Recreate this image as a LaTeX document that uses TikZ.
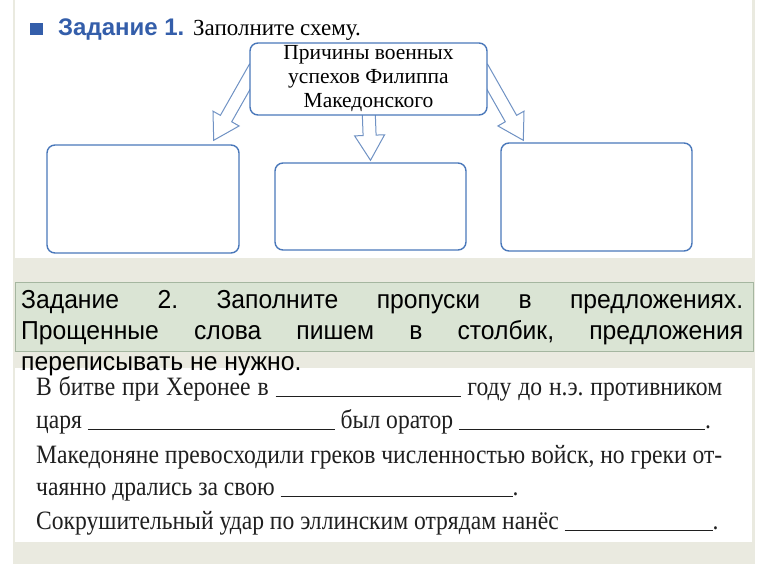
\documentclass[tikz,border=0pt]{standalone}
\usepackage{fontspec}
\setmainfont{Liberation Serif}
\newfontfamily\headsans{Liberation Sans}
\newfontfamily\notesans[FakeStretch=0.95]{Liberation Sans}
\newfontfamily\taskserif[FakeStretch=0.89]{Liberation Serif}
\usetikzlibrary{calc,backgrounds}
\frenchspacing

\definecolor{frameblue}{RGB}{74,120,186}
\definecolor{arrowblue}{RGB}{112,146,196}
\definecolor{headblue}{RGB}{52,94,170}
\definecolor{panelgray}{RGB}{234,234,224}
\definecolor{notegreen}{RGB}{218,228,212}
\definecolor{noteedge}{RGB}{165,182,160}

\tikzset{
  schemebox/.style={draw=frameblue, line width=1.4pt, rounded corners=8pt, fill=white, inner sep=0pt},
  hollowarrow/.style={draw=arrowblue, line width=1pt, line join=miter},
  sentence/.style={anchor=base west, inner sep=0pt, text=black!88, font=\taskserif\fontsize{26.5}{30}\selectfont},
}
\newcommand\blank[1]{\rule[-2pt]{#1pt}{0.8pt}}
% hollow block arrow: name, start, tip
\newcommand\blockarrow[3]{%
  \coordinate (#1-a) at (#2);
  \coordinate (#1-b) at (#3);
  \coordinate (#1-h) at ($(#1-b)!25pt!(#1-a)$);
  \draw[hollowarrow] ($(#1-a)!6.5pt!90:(#1-b)$) -- ($(#1-h)!6.5pt!90:(#1-b)$)
    -- ($(#1-h)!15pt!90:(#1-b)$) -- (#1-b) -- ($(#1-h)!15pt!-90:(#1-b)$)
    -- ($(#1-h)!6.5pt!-90:(#1-b)$) -- ($(#1-a)!6.5pt!-90:(#1-b)$);
}

\begin{document}
\begin{tikzpicture}[x=1pt,y=-1pt]
  \useasboundingbox (0,0) rectangle (768,576);
  \begin{scope}[on background layer]
    \fill[white] (0,0) rectangle (768,576);
    \fill[panelgray] (13,0) rectangle (755,564);
    \fill[white] (15,0) rectangle (752,258);
    \fill[white] (15,368) rectangle (752,542);
  \end{scope}

  % task 1
  \fill[headblue] (30,23) rectangle (43,35);
  \node[anchor=base west, inner sep=0pt, text=headblue, font=\headsans\bfseries\fontsize{24}{28}\selectfont] (task1) at (58,35) {Задание 1.};
  \node[anchor=base west, inner sep=0pt, font=\fontsize{23}{27}\selectfont] (task1text) at (193,35) {Заполните схему.};

  \node[schemebox, minimum width=237pt, minimum height=72pt, align=center, font=\fontsize{21.5}{24}\selectfont] (cause) at (368.5,79) {Причины военных\\успехов Филиппа\\Македонского};
  \node[schemebox, minimum width=192pt, minimum height=108pt] (reason1) at (143,199) {};
  \node[schemebox, minimum width=191pt, minimum height=87pt] (reason2) at (370.5,206.5) {};
  \node[schemebox, minimum width=191pt, minimum height=108pt] (reason3) at (596.5,197) {};

  \begin{scope}[on background layer]
    \blockarrow{arr1}{$(cause.west)+(6,-12)$}{$(reason1.north east)+(-26,-4)$}
    \blockarrow{arr2}{$(cause.south)+(0,-10)$}{$(reason2.north)+(0,-2)$}
    \blockarrow{arr3}{$(cause.east)+(-6,-12)$}{$(reason3.north west)+(23,-2)$}
  \end{scope}

  % task 2
  \draw[noteedge, fill=notegreen, line width=0.8pt] (15,282) rectangle (753,351);
  \node[anchor=north west, inner sep=0pt, text width=722pt, align=justify, font=\notesans\fontsize{26}{31}\selectfont] (task2) at (21,290) {Задание 2. Заполните пропуски в предложениях.\linebreak Прощенные слова пишем в столбик, предложения\linebreak переписывать не нужно.};

  \node[sentence] (line1) at (36,395) {\makebox[686pt][s]{В битве при Херонее в \blank{185} году до н.э. противником}};
  \node[sentence] (line2) at (36,428) {царя \blank{247} был оратор \blank{246}.};
  \node[sentence] (line3) at (36,463) {\makebox[686pt][s]{Македоняне превосходили греков численностью войск, но греки от-}};
  \node[sentence] (line4) at (36,495) {чаянно дрались за свою \blank{232}.};
  \node[sentence] (line5) at (36,529) {Сокрушительный удар по эллинским отрядам нанёс \blank{148}.};
\end{tikzpicture}
\end{document}
